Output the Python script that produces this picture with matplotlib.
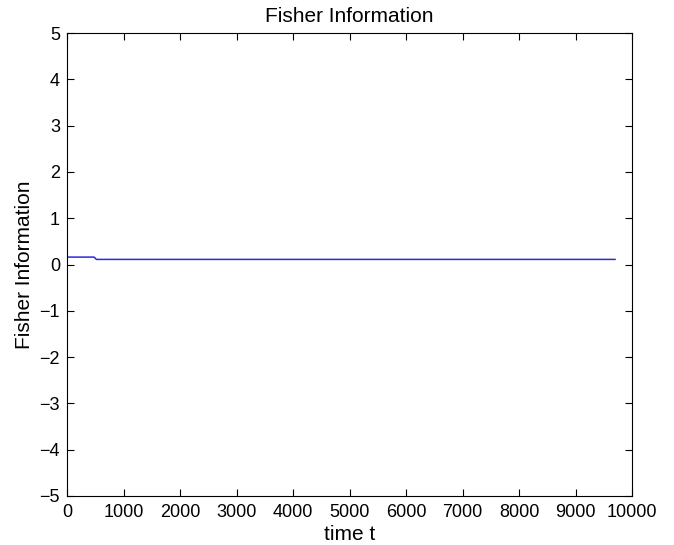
import numpy as np
import matplotlib
matplotlib.use("Agg")
import matplotlib.pyplot as plt

# step-shaped Fisher information trace
time_t = [0, 480, 520, 9700]
fisher = [0.16, 0.16, 0.11, 0.11]

x_ticks = list(range(0, 10001, 1000))
y_ticks = list(range(-5, 6))

plt.rcParams['font.family'] = ['Liberation Sans', 'DejaVu Sans']

fig = plt.figure(figsize=(6.74, 5.45), dpi=100)
ax = fig.add_axes([67/674, 1 - 496/545, (632 - 67)/674, (496 - 33)/545])

ax.plot(time_t, fisher, color='#2a2ae0', linewidth=1.1)

ax.set_xlim(0, 10000)
ax.set_ylim(-5, 5)
ax.set_xticks(x_ticks)
ax.set_yticks(y_ticks)
ax.set_yticklabels([str(v).replace('-', '\u2212') for v in y_ticks])
ax.tick_params(direction='in', top=True, right=True, labelsize=13, length=5)
ax.tick_params(axis='x', pad=6)
ax.tick_params(axis='y', pad=5)
for s in ax.spines.values():
    s.set_linewidth(0.8)

ax.set_title("Fisher Information", fontsize=15, pad=8)
ax.set_xlabel("time t", fontsize=15, labelpad=3)
ax.set_ylabel("Fisher Information", fontsize=15, labelpad=4)

plt.savefig("out.png", dpi=100)
